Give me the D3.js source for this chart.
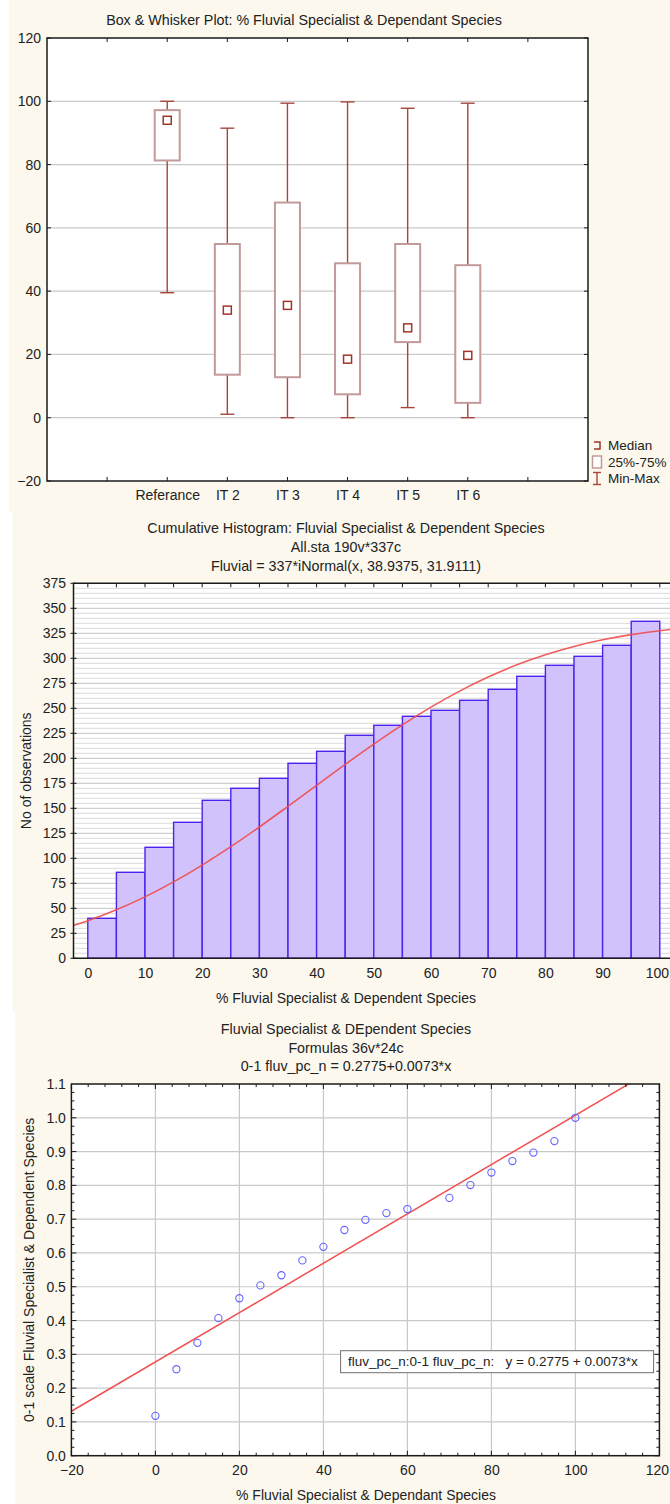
<!DOCTYPE html>
<html>
<head>
<meta charset="utf-8">
<script src="https://cdn.jsdelivr.net/npm/d3@7"></script>
<style>
  body { margin: 0; background: #ffffff; }
  svg { display: block; }
  text { font-family: "Liberation Sans", Arial, sans-serif; fill: #222; }
</style>
</head>
<body>
<svg id="chart" width="670" height="1504"></svg>
<script>
// ---------- Box & whisker: % fluvial specialist & dependant species ----------
const boxCategories = ["Referance", "IT 2", "IT 3", "IT 4", "IT 5", "IT 6"];
const boxMin    = [39.5, 1.1, 0.0, 0.0, 3.2, 0.0];
const boxQ1     = [81.3, 13.6, 12.8, 7.4, 23.9, 4.7];
const boxMedian = [94.0, 34.0, 35.5, 18.5, 28.4, 19.7];
const boxQ3     = [97.2, 54.9, 68.0, 48.8, 54.9, 48.2];
const boxMax    = [100.0, 91.5, 99.4, 99.8, 97.8, 99.4];
const boxYTicks = [-20, 0, 20, 40, 60, 80, 100, 120];
const boxLegend = ["Median", "25%-75%", "Min-Max"];

// ---------- Cumulative histogram ----------
const histBinStart = [0, 5, 10, 15, 20, 25, 30, 35, 40, 45, 50, 55, 60, 65, 70, 75, 80, 85, 90, 95];
const histBinWidth = 5;
const histCounts   = [40, 86, 111, 136, 158, 170, 180, 195, 207, 223, 233, 242, 248, 258, 269, 282, 293, 302, 313, 337];
const histXTicks   = [0, 10, 20, 30, 40, 50, 60, 70, 80, 90, 100];
const histYTicks   = [0, 25, 50, 75, 100, 125, 150, 175, 200, 225, 250, 275, 300, 325, 350, 375];
// fitted cumulative normal curve (Fluvial = 337*iNormal(x, 38.9375, 31.9111))
const fitX = [-2.5, 0, 5, 10, 15, 20, 25, 30, 35, 40, 45, 50, 55, 60, 65, 70, 75, 80, 85, 90, 95, 100, 102.5];
const fitY = [32.7, 37.5, 48.5, 61.4, 76.4, 93.2, 111.6, 131.3, 152.0, 173.0, 193.9, 214.2, 233.4, 251.2, 267.2, 281.3, 293.5, 303.6, 311.9, 318.5, 323.7, 327.6, 329.2];

// ---------- Scatter with linear fit ----------
const scatterX = [0, 5, 10, 15, 20, 25, 30, 35, 40, 45, 50, 55, 60, 70, 75, 80, 85, 90, 95, 100];
const scatterY = [0.118, 0.256, 0.334, 0.407, 0.466, 0.504, 0.534, 0.578, 0.618, 0.668, 0.698, 0.718, 0.730, 0.763, 0.801, 0.838, 0.872, 0.897, 0.931, 1.000];
const regIntercept = 0.2775;
const regSlope = 0.0073;
const scatterXTicks = [-20, 0, 20, 40, 60, 80, 100, 120];
const scatterYTicks = [0, 0.1, 0.2, 0.3, 0.4, 0.5, 0.6, 0.7, 0.8, 0.9, 1.0, 1.1];

const W = 670;
const svg = d3.select("#chart");
const CREAM = "#fcf8ee";
const FRAME = "#1a1a1a";
const GRID = "#c9c9c9";
const TICK_FONT = 14;
const TITLE_FONT = 14.3;

function panel(x, y, w, h) {
  svg.append("rect").attr("x", x).attr("y", y).attr("width", w).attr("height", h).attr("fill", CREAM);
}
function titleLines(lines, cx, baselines, size) {
  lines.forEach((t, i) => {
    svg.append("text").attr("x", cx).attr("y", baselines[i])
      .attr("text-anchor", "middle").attr("font-size", size).text(t);
  });
}
function styleAxis(sel) {
  sel.select(".domain").remove();
  sel.selectAll("text").attr("font-size", TICK_FONT).attr("font-family", null).attr("fill", "#222");
  return sel;
}
// keep a bottom-axis label inside the page when its tick sits at the right edge
function keepInside(axisSel) {
  axisSel.selectAll(".tick").each(function () {
    const t = d3.select(this);
    const tx = +t.attr("transform").match(/translate\(([-\d.]+)/)[1];
    const txt = t.select("text");
    const w = txt.node().getComputedTextLength();
    if (tx + w / 2 > W - 1) txt.attr("text-anchor", "end").attr("x", W - 1 - tx);
  });
}

// ===================== Panel 1: box plot =====================
panel(9, 0, 661, 512);
{
  const left = 47, right = 588, top = 38, bottom = 481;
  const x = d3.scaleLinear().domain([0, 9]).range([left, right]);
  const y = d3.scaleLinear().domain([-20, 120]).range([bottom, top]);
  const g = svg.append("g");

  g.append("rect").attr("x", left).attr("y", top).attr("width", right - left).attr("height", bottom - top).attr("fill", "#fff");

  // horizontal grid
  g.selectAll(".grid").data(boxYTicks.filter(v => v > -20 && v < 120)).join("line")
    .attr("x1", left).attr("x2", right).attr("y1", d => y(d)).attr("y2", d => y(d))
    .attr("stroke", GRID).attr("stroke-width", 1.2);

  const pos = i => x(i + 2);
  const boxW = 25, capW = 14;
  const WH = "#a8463c";
  const BX = "#c29a9a";

  boxCategories.forEach((c, i) => {
    const cx = pos(i);
    // whiskers
    g.append("line").attr("x1", cx).attr("x2", cx).attr("y1", y(boxMax[i])).attr("y2", y(boxQ3[i])).attr("stroke", WH).attr("stroke-width", 1.4);
    g.append("line").attr("x1", cx).attr("x2", cx).attr("y1", y(boxQ1[i])).attr("y2", y(boxMin[i])).attr("stroke", WH).attr("stroke-width", 1.4);
    [boxMax[i], boxMin[i]].forEach(v => {
      g.append("line").attr("x1", cx - capW / 2).attr("x2", cx + capW / 2).attr("y1", y(v)).attr("y2", y(v)).attr("stroke", WH).attr("stroke-width", 1.4);
    });
    // box
    g.append("rect").attr("x", cx - boxW / 2).attr("y", y(boxQ3[i]))
      .attr("width", boxW).attr("height", y(boxQ1[i]) - y(boxQ3[i]))
      .attr("fill", "#fff").attr("stroke", BX).attr("stroke-width", 2);
    // median marker
    g.append("rect").attr("x", cx - 4).attr("y", y(boxMedian[i]) - 4).attr("width", 8).attr("height", 8)
      .attr("fill", "#fff").attr("stroke", "#a0352a").attr("stroke-width", 1.5);
  });

  // frame and ticks
  g.append("rect").attr("x", left).attr("y", top).attr("width", right - left).attr("height", bottom - top)
    .attr("fill", "none").attr("stroke", FRAME).attr("stroke-width", 1.5);
  d3.range(1, 9).forEach(k => {
    g.append("line").attr("x1", x(k)).attr("x2", x(k)).attr("y1", top).attr("y2", top + 4).attr("stroke", FRAME);
    g.append("line").attr("x1", x(k)).attr("x2", x(k)).attr("y1", bottom).attr("y2", bottom - 4).attr("stroke", FRAME);
  });
  boxYTicks.forEach(v => {
    g.append("line").attr("x1", left).attr("x2", left + 4).attr("y1", y(v)).attr("y2", y(v)).attr("stroke", FRAME);
    g.append("line").attr("x1", right).attr("x2", right - 4).attr("y1", y(v)).attr("y2", y(v)).attr("stroke", FRAME);
  });

  // axis labels
  styleAxis(g.append("g").attr("transform", `translate(${left},0)`)
    .call(d3.axisLeft(y).tickValues(boxYTicks).tickSize(0).tickPadding(6)));
  styleAxis(g.append("g").attr("transform", `translate(0,${bottom})`)
    .call(d3.axisBottom(d3.scalePoint().domain(boxCategories).range([pos(0), pos(5)])).tickSize(0).tickPadding(9)));

  titleLines(["Box & Whisker Plot: % Fluvial Specialist & Dependant Species"], 304, [25], TITLE_FONT);

  // legend
  const lx = 597, ly = [445.5, 462, 478.5];
  const lg = svg.append("g");
  lg.append("path").attr("d", `M${lx - 3},${ly[0] - 3.5} H${lx + 3} V${ly[0] + 3.5} H${lx - 3}`)
    .attr("fill", "none").attr("stroke", "#a0352a").attr("stroke-width", 1.5);
  lg.append("rect").attr("x", lx - 4.5).attr("y", ly[1] - 6).attr("width", 9).attr("height", 12)
    .attr("fill", "#fff").attr("stroke", BX).attr("stroke-width", 1.5);
  lg.append("line").attr("x1", lx).attr("x2", lx).attr("y1", ly[2] - 6).attr("y2", ly[2] + 6).attr("stroke", WH).attr("stroke-width", 1.4);
  [ly[2] - 6, ly[2] + 6].forEach(yy => lg.append("line").attr("x1", lx - 4).attr("x2", lx + 4).attr("y1", yy).attr("y2", yy).attr("stroke", WH).attr("stroke-width", 1.4));
  boxLegend.forEach((t, i) => {
    lg.append("text").attr("x", 608).attr("y", ly[i]).attr("dy", "0.35em").attr("font-size", 13.5).text(t);
  });
}

// ===================== Panel 2: cumulative histogram =====================
panel(12.5, 512, 657.5, 500);
{
  const left = 73.5, top = 583.3, bottom = 958.3;
  const x = d3.scaleLinear().domain([-2.5, 102.5]).range([left, left + 600.6]);
  const y = d3.scaleLinear().domain([0, 375]).range([bottom, top]);
  const right = x(102.5);
  const g = svg.append("g");

  g.append("rect").attr("x", left).attr("y", top).attr("width", right - left).attr("height", bottom - top).attr("fill", "#fff");

  // dense horizontal grid every 5 units
  g.selectAll(".hg").data(d3.range(5, 375, 5)).join("line")
    .attr("x1", left).attr("x2", right).attr("y1", d => y(d)).attr("y2", d => y(d))
    .attr("stroke", d => d % 25 === 0 ? "#c4c4c4" : "#dadada").attr("stroke-width", 1);

  // bars
  g.selectAll(".bar").data(histCounts).join("rect")
    .attr("x", (d, i) => x(histBinStart[i]))
    .attr("width", (d, i) => x(histBinStart[i] + histBinWidth) - x(histBinStart[i]))
    .attr("y", d => y(d)).attr("height", d => bottom - y(d))
    .attr("fill", "#d1c2fb").attr("stroke", "#4b22ee").attr("stroke-width", 1.4);

  // fitted curve
  const line = d3.line().x(d => x(d[0])).y(d => y(d[1])).curve(d3.curveMonotoneX);
  g.append("path").attr("d", line(fitX.map((v, i) => [v, fitY[i]])))
    .attr("fill", "none").attr("stroke", "#f24a4a").attr("stroke-width", 1.6).attr("opacity", 0.9);

  // frame
  g.append("path").attr("d", `M${right},${top} H${left} V${bottom} H${right}`)
    .attr("fill", "none").attr("stroke", FRAME).attr("stroke-width", 1.5);
  d3.range(0, 101, 5).forEach(v => {
    g.append("line").attr("x1", x(v)).attr("x2", x(v)).attr("y1", top).attr("y2", top + 4).attr("stroke", FRAME);
  });
  histYTicks.forEach(v => {
    g.append("line").attr("x1", left - 3).attr("x2", left + 3).attr("y1", y(v)).attr("y2", y(v)).attr("stroke", FRAME);
  });

  styleAxis(g.append("g").attr("transform", `translate(${left},0)`)
    .call(d3.axisLeft(y).tickValues(histYTicks).tickSize(0).tickPadding(7.5)));
  keepInside(styleAxis(g.append("g").attr("transform", `translate(0,${bottom})`)
    .call(d3.axisBottom(x).tickValues(histXTicks).tickSize(0).tickPadding(10))));

  titleLines([
    "Cumulative Histogram: Fluvial Specialist & Dependent Species",
    "All.sta 190v*337c",
    "Fluvial = 337*iNormal(x, 38.9375, 31.9111)"
  ], 346, [533, 552, 570.5], TITLE_FONT);

  svg.append("text").attr("x", 346).attr("y", 1003).attr("text-anchor", "middle").attr("font-size", TICK_FONT)
    .text("% Fluvial Specialist & Dependent Species");
  svg.append("text").attr("transform", `translate(31,${(top + bottom) / 2}) rotate(-90)`)
    .attr("text-anchor", "middle").attr("font-size", TICK_FONT).text("No of observations");
}

// ===================== Panel 3: scatter with fit =====================
panel(15, 1012, 655, 492);
{
  const left = 71.4, right = 659.4, top = 1084, bottom = 1455.7;
  const x = d3.scaleLinear().domain([-20, 120]).range([left, right]);
  const y = d3.scaleLinear().domain([0, 1.1]).range([bottom, top]);
  const g = svg.append("g");

  g.append("rect").attr("x", left).attr("y", top).attr("width", right - left).attr("height", bottom - top).attr("fill", "#fff");

  g.selectAll(".vg").data(scatterXTicks.slice(1, -1)).join("line")
    .attr("x1", d => x(d)).attr("x2", d => x(d)).attr("y1", top).attr("y2", bottom)
    .attr("stroke", GRID).attr("stroke-width", 1.2);
  g.selectAll(".hg").data(scatterYTicks.slice(1, -1)).join("line")
    .attr("x1", left).attr("x2", right).attr("y1", d => y(d)).attr("y2", d => y(d))
    .attr("stroke", GRID).attr("stroke-width", 1.2);

  // regression line, clipped to the plot area
  svg.append("clipPath").attr("id", "plot3").append("rect")
    .attr("x", left).attr("y", top).attr("width", right - left).attr("height", bottom - top);
  const xs = [-20, 120];
  g.append("line").attr("clip-path", "url(#plot3)")
    .attr("x1", x(xs[0])).attr("y1", y(regIntercept + regSlope * xs[0]))
    .attr("x2", x(xs[1])).attr("y2", y(regIntercept + regSlope * xs[1]))
    .attr("stroke", "#f05050").attr("stroke-width", 1.5);

  g.selectAll(".pt").data(scatterX).join("circle")
    .attr("cx", d => x(d)).attr("cy", (d, i) => y(scatterY[i])).attr("r", 3.6)
    .attr("fill", "none").attr("stroke", "#6464ff").attr("stroke-width", 1.1);

  // frame and ticks
  g.append("rect").attr("x", left).attr("y", top).attr("width", right - left).attr("height", bottom - top)
    .attr("fill", "none").attr("stroke", FRAME).attr("stroke-width", 1.5);
  d3.range(-20, 121, 4).forEach(v => {
    const len = v % 20 === 0 ? 5 : 3;
    g.append("line").attr("x1", x(v)).attr("x2", x(v)).attr("y1", top).attr("y2", top + len).attr("stroke", FRAME);
    g.append("line").attr("x1", x(v)).attr("x2", x(v)).attr("y1", bottom).attr("y2", bottom - len).attr("stroke", FRAME);
  });
  d3.range(0, 44).forEach(k => {
    const v = k * 0.025;
    const len = k % 4 === 0 ? 5 : 3;
    g.append("line").attr("x1", left).attr("x2", left + len).attr("y1", y(v)).attr("y2", y(v)).attr("stroke", FRAME);
    g.append("line").attr("x1", right).attr("x2", right - len).attr("y1", y(v)).attr("y2", y(v)).attr("stroke", FRAME);
  });

  styleAxis(g.append("g").attr("transform", `translate(${left},0)`)
    .call(d3.axisLeft(y).tickValues(scatterYTicks).tickFormat(d3.format(".1f")).tickSize(0).tickPadding(5.5)));
  keepInside(styleAxis(g.append("g").attr("transform", `translate(0,${bottom})`)
    .call(d3.axisBottom(x).tickValues(scatterXTicks).tickSize(0).tickPadding(9))));

  // fit legend box
  g.append("rect").attr("x", 340.6).attr("y", 1350.7).attr("width", 313).attr("height", 22)
    .attr("fill", "#fff").attr("stroke", "#707070").attr("stroke-width", 1);
  g.append("text").attr("x", 348).attr("y", 1361.7).attr("dy", "0.35em").attr("font-size", 13.5)
    .attr("xml:space", "preserve").text("fluv_pc_n:0-1 fluv_pc_n:   y = 0.2775 + 0.0073*x");

  titleLines([
    "Fluvial Specialist & DEpendent Species",
    "Formulas 36v*24c",
    "0-1 fluv_pc_n = 0.2775+0.0073*x"
  ], 346, [1034, 1052.5, 1071], TITLE_FONT);

  svg.append("text").attr("x", 366).attr("y", 1500).attr("text-anchor", "middle").attr("font-size", TICK_FONT)
    .text("% Fluvial Specialist & Dependant Species");
  svg.append("text").attr("transform", `translate(34,${(top + bottom) / 2}) rotate(-90)`)
    .attr("text-anchor", "middle").attr("font-size", TICK_FONT).text("0-1 scale Fluvial Specialist & Dependent Species");
}
</script>
</body>
</html>
